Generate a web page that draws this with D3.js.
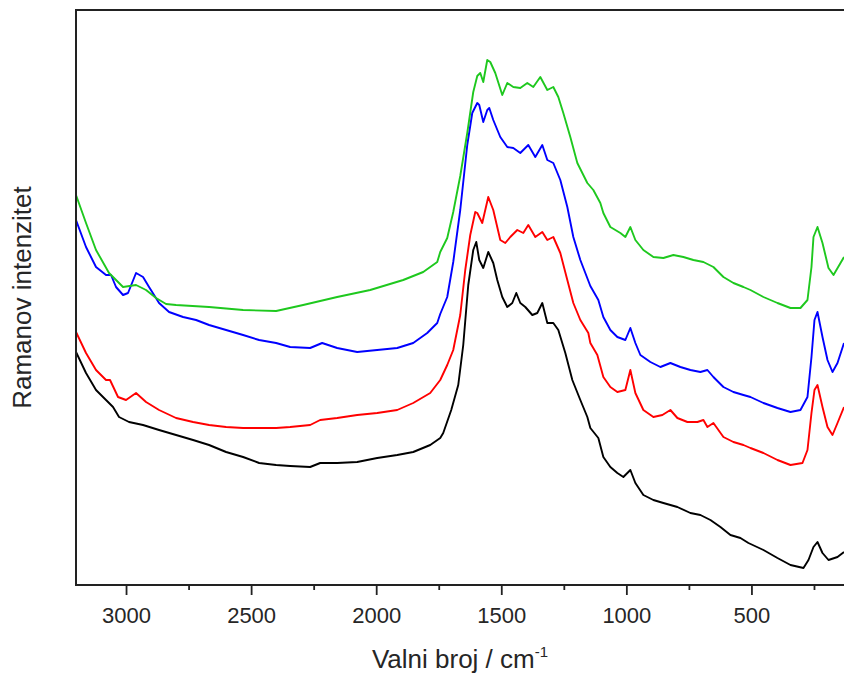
<!DOCTYPE html>
<html>
<head>
<meta charset="utf-8">
<script src="https://cdn.jsdelivr.net/npm/d3@7"></script>
<style>
  body { margin: 0; background: #fff; }
  svg text { font-family: Arial, "Liberation Sans", sans-serif; fill: #262626; }
</style>
</head>
<body>
<div id="chart"></div>
<script>
"use strict";

// == spectra: [wavenumber / cm-1, intensity (a.u.)] ==
var greenSpectrum = [
  [3200,390],[3160,362],[3120,335],[3068,312],[3012,298],[2960,300],[2920,295],[2880,287],
  [2840,281],[2800,280],[2668,278],[2532,275],[2400,274],[2292,280],[2156,288],[2024,295],
  [1892,305],[1812,313],[1756,323],[1744,333],[1716,347],[1692,373],[1664,409],[1636,452],
  [1612,493],[1596,509],[1584,512],[1572,503],[1556,525],[1544,523],[1524,512],[1496,490],
  [1476,502],[1452,498],[1424,497],[1396,502],[1372,498],[1344,508],[1316,495],[1292,498],
  [1272,488],[1252,472],[1224,448],[1196,422],[1156,402],[1132,395],[1104,382],[1092,372],
  [1064,358],[1024,352],[1004,348],[984,358],[964,345],[932,335],[892,328],[852,327],
  [812,330],[772,328],[732,325],[692,323],[652,318],[612,308],[572,302],[532,298],
  [504,295],[452,288],[396,282],[344,277],[304,277],[276,285],[260,318],[252,348],
  [236,358],[216,342],[192,317],[172,310],[144,322],[130,328]
];

var blueSpectrum = [
  [3200,365],[3160,338],[3120,318],[3080,310],[3060,310],[3040,298],[3012,290],[2992,292],
  [2960,312],[2932,308],[2908,298],[2868,282],[2828,273],[2772,268],[2720,265],[2668,260],
  [2600,255],[2532,250],[2468,245],[2400,242],[2344,238],[2264,237],[2216,242],[2156,237],
  [2076,233],[1996,235],[1916,237],[1852,242],[1796,252],[1756,262],[1744,271],[1716,288],
  [1692,323],[1664,375],[1636,440],[1616,472],[1596,482],[1588,480],[1572,463],[1556,475],
  [1548,477],[1532,465],[1504,448],[1476,438],[1452,437],[1424,432],[1392,440],[1364,428],
  [1336,440],[1316,425],[1292,422],[1264,405],[1236,378],[1212,348],[1184,325],[1144,299],
  [1112,285],[1092,268],[1064,255],[1036,248],[1004,245],[984,257],[964,242],[944,230],
  [904,223],[864,218],[824,222],[784,218],[744,215],[704,213],[676,215],[652,208],
  [612,198],[572,193],[532,190],[504,188],[452,182],[396,177],[344,173],[304,175],
  [276,188],[260,228],[248,265],[236,273],[216,248],[196,225],[176,213],[156,222],[130,242]
];

var redSpectrum = [
  [3200,253],[3160,232],[3120,215],[3080,205],[3064,205],[3032,188],[3000,185],[2960,192],
  [2920,183],[2868,175],[2800,167],[2732,163],[2668,160],[2600,158],[2532,157],[2468,157],
  [2400,157],[2344,158],[2264,160],[2224,165],[2156,167],[2076,170],[1996,172],[1916,175],
  [1852,182],[1784,192],[1744,205],[1716,220],[1692,235],[1664,270],[1644,315],[1624,350],
  [1604,373],[1596,372],[1576,362],[1552,388],[1532,375],[1504,345],[1484,342],[1464,348],
  [1436,355],[1412,352],[1392,360],[1364,348],[1336,353],[1316,345],[1292,348],[1264,332],
  [1236,305],[1212,282],[1184,265],[1152,252],[1144,242],[1116,230],[1092,208],[1064,198],
  [1036,193],[1004,195],[984,215],[964,192],[932,175],[892,168],[856,170],[824,175],
  [796,167],[756,163],[716,163],[692,165],[676,158],[652,162],[612,148],[572,143],
  [532,140],[504,137],[452,132],[396,125],[344,120],[296,122],[276,135],[260,172],
  [248,195],[236,200],[216,178],[196,158],[176,150],[156,162],[130,178]
];

var blackSpectrum = [
  [3200,233],[3160,212],[3120,195],[3080,185],[3052,178],[3028,168],[2988,163],[2932,160],
  [2868,155],[2800,150],[2732,145],[2668,140],[2600,133],[2532,128],[2468,122],[2400,120],
  [2344,119],[2264,118],[2224,122],[2156,122],[2076,123],[1996,127],[1916,130],[1852,133],
  [1784,140],[1744,147],[1732,152],[1700,175],[1672,200],[1652,240],[1632,300],[1612,335],
  [1600,343],[1588,325],[1572,317],[1552,333],[1532,322],[1516,305],[1496,288],[1476,278],
  [1456,282],[1440,292],[1424,282],[1404,278],[1376,270],[1356,272],[1336,282],[1316,262],
  [1292,262],[1272,255],[1244,232],[1216,205],[1184,185],[1156,168],[1144,157],[1112,147],
  [1092,128],[1064,118],[1036,112],[1012,108],[984,115],[964,102],[932,90],[892,85],
  [852,82],[796,78],[744,72],[704,70],[664,65],[624,58],[584,50],[544,47],
  [512,42],[452,35],[396,27],[344,20],[292,17],[272,25],[252,38],[236,43],
  [216,32],[192,25],[156,28],[130,33]
];

var seriesColors = ["#000000", "#ff0000", "#0000ff", "#1ec81e"];
var majorTicks = [3000, 2500, 2000, 1500, 1000, 500];
var minorTicks = [2750, 2250, 1750, 1250, 750, 250];

var visualize = function() {
  var W = 844, H = 675;
  var margin = { top: 10, right: 0, bottom: 90, left: 76 };
  var width = W - margin.left - margin.right,
      height = H - margin.top - margin.bottom;

  var svg = d3.select("#chart")
              .append("svg")
              .attr("width", W)
              .attr("height", H);

  var g = svg.append("g")
             .attr("transform", "translate(" + margin.left + "," + margin.top + ")");

  // == reversed wavenumber scale ==
  var x = d3.scaleLinear()
            .domain([3200, 130])
            .range([0, width]);

  var y = d3.scaleLinear()
            .domain([0, 575])
            .range([height, 0]);

  g.append("clipPath")
   .attr("id", "plotClip")
   .append("rect")
   .attr("width", width)
   .attr("height", height);

  var line = d3.line()
               .x(function (d) { return x(d[0]); })
               .y(function (d) { return y(d[1]); });

  var spectra = [blackSpectrum, redSpectrum, blueSpectrum, greenSpectrum];

  g.append("g")
   .attr("clip-path", "url(#plotClip)")
   .selectAll("path")
   .data(spectra)
   .enter()
   .append("path")
   .attr("d", line)
   .attr("fill", "none")
   .attr("stroke", function (d, i) { return seriesColors[i]; })
   .attr("stroke-width", 1.9)
   .attr("stroke-linejoin", "round");

  // == axes ==
  var majorAxis = d3.axisBottom(x)
                    .tickValues(majorTicks)
                    .tickSize(10)
                    .tickPadding(12)
                    .tickFormat(d3.format("d"));

  var minorAxis = d3.axisBottom(x)
                    .tickValues(minorTicks)
                    .tickSize(5)
                    .tickFormat("");

  var ax = g.append("g")
            .attr("transform", "translate(0," + height + ")")
            .call(majorAxis);
  g.append("g")
   .attr("transform", "translate(0," + height + ")")
   .call(minorAxis);

  g.selectAll(".domain").remove();
  g.selectAll(".tick line").attr("stroke", "#222").attr("stroke-width", 1.8);
  ax.selectAll("text")
    .attr("font-size", 22)
    .attr("fill", "#262626")
    .style("font-family", "Arial, 'Liberation Sans', sans-serif");

  // == frame: top, left, bottom ==
  g.append("path")
   .attr("d", "M" + width + ",0H0V" + height + "H" + width)
   .attr("fill", "none")
   .attr("stroke", "#222")
   .attr("stroke-width", 2);

  // == axis titles ==
  var xTitle = svg.append("text")
                  .attr("x", margin.left + width / 2)
                  .attr("y", 668)
                  .attr("text-anchor", "middle")
                  .attr("font-size", 26);
  xTitle.append("tspan").text("Valni broj / cm");
  xTitle.append("tspan")
        .attr("font-size", 15)
        .attr("dy", -11)
        .text("-1");

  svg.append("text")
     .attr("transform", "translate(31," + (margin.top + height / 2) + ") rotate(-90)")
     .attr("text-anchor", "middle")
     .attr("font-size", 26)
     .text("Ramanov intenzitet");
};

visualize();
</script>
</body>
</html>
